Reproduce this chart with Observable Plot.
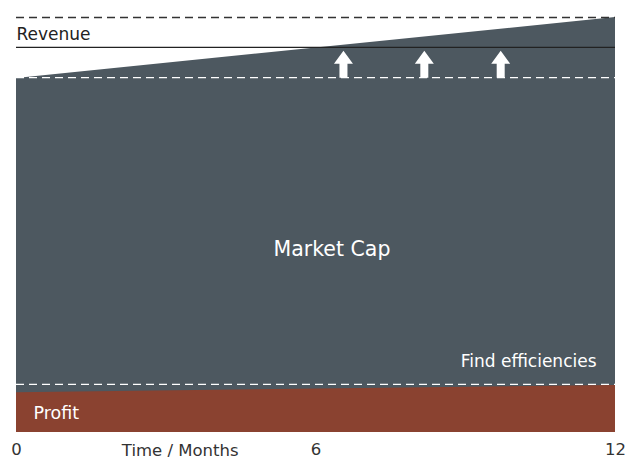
<!DOCTYPE html>
<html>
<head>
<meta charset="utf-8">
<script src="https://cdn.jsdelivr.net/npm/d3@7"></script>
<script src="https://cdn.jsdelivr.net/npm/@observablehq/plot@0.6"></script>
<style>
  body { margin: 0; background: #fff; }
  #chart { width: 630px; height: 459px; }
</style>
</head>
<body>
<div id="chart"></div>
<script>
const months = [0, 12];
const marketCapTop = [85.3, 100];
const profitTop = [9.6, 11.3];
const revenueLevel = 92.8;
const dashedDark = [100];
const dashedLight = [85.5, 11.6];
const arrowMonths = [6.55, 8.17, 9.7];
const arrowBase = 85.5;
const xTicks = [0, 6, 12];

const labels = [
  {x: 0, y: 95.8, text: "Revenue", fill: "#222", anchor: "start", size: 17},
  {x: 6.32, y: 44.2, text: "Market Cap", fill: "#fff", anchor: "middle", size: 20.5},
  {x: 11.62, y: 17.0, text: "Find efficiencies", fill: "#fff", anchor: "end", size: 17},
  {x: 0.34, y: 4.6, text: "Profit", fill: "#fff", anchor: "start", size: 17.5}
];

const series = months.map((m, i) => ({month: m, cap: marketCapTop[i], profit: profitTop[i]}));

const arrowShape = {
  draw(context, l) {
    const hw = 9.5, sw = 4, hh = 13;
    context.moveTo(-sw, 0);
    context.lineTo(-sw, -(l - hh));
    context.lineTo(-hw, -(l - hh));
    context.lineTo(0, -l);
    context.lineTo(hw, -(l - hh));
    context.lineTo(sw, -(l - hh));
    context.lineTo(sw, 0);
    context.closePath();
  }
};

const font = "'DejaVu Sans', sans-serif";

const chart = Plot.plot({
  width: 630,
  height: 459,
  marginLeft: 16,
  marginRight: 15,
  marginTop: 17,
  marginBottom: 27,
  style: {fontFamily: font, background: "#fff"},
  x: {domain: [0, 12]},
  y: {domain: [0, 100], axis: null},
  marks: [
    Plot.areaY(series, {x: "month", y: "cap", fill: "#4d5860"}),
    Plot.areaY(series, {x: "month", y: "profit", fill: "#8a4230"}),
    Plot.ruleY(dashedDark, {stroke: "#333", strokeWidth: 1.3, strokeDasharray: "8,5"}),
    Plot.ruleY(dashedLight, {stroke: "#fff", strokeWidth: 1.3, strokeDasharray: "8,5"}),
    Plot.ruleY([revenueLevel], {stroke: "#222", strokeWidth: 1.3}),
    Plot.vector(arrowMonths, {x: d => d, y: () => arrowBase, length: 27, anchor: "start", shape: arrowShape, fill: "#fff", stroke: "none"}),
    ...labels.map(l => Plot.text([l], {x: "x", y: "y", text: "text", fill: l.fill, textAnchor: l.anchor, lineAnchor: "middle", fontSize: l.size})),
    Plot.axisX({ticks: xTicks, tickSize: 0, tickPadding: 11, fontSize: 16.5, color: "#333", label: null, tickFormat: d => String(d)}),
    Plot.text(["Time / Months"], {x: () => 3.28, y: () => 0, dy: 18, fontSize: 16.5, fill: "#333", lineAnchor: "middle"})
  ]
});
document.getElementById("chart").appendChild(chart);
</script>
</body>
</html>
